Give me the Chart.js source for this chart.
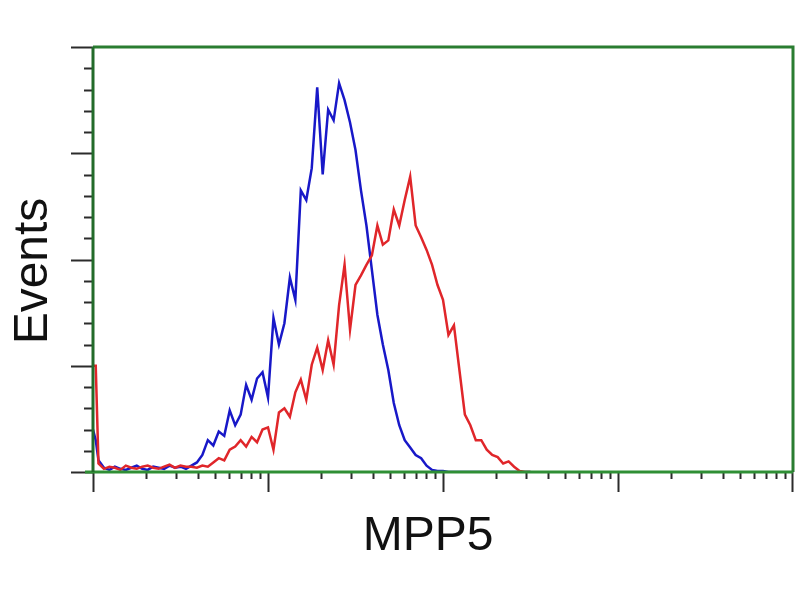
<!DOCTYPE html>
<html>
<head>
<meta charset="utf-8">
<script src="https://cdn.jsdelivr.net/npm/chart.js@4"></script>
<style>
  html, body { margin: 0; padding: 0; background: #fff; }
  #wrap { width: 800px; height: 600px; }
</style>
</head>
<body>
<div id="wrap"><canvas id="histo" width="800" height="600"></canvas></div>
<script>
// histogram channels (256 channels over 4 log decades)
const channels = [0, 1, 2, 4, 6, 8, 10, 12, 14, 16, 18, 20, 22, 24, 26, 28, 30, 32, 34,
  36, 38, 40, 42, 44, 46, 48, 50, 52, 54, 56, 58, 60, 62, 64, 66, 68, 70, 72, 74, 76, 78,
  80, 82, 84, 86, 88, 90, 92, 94, 96, 98, 100, 102, 104, 106, 108, 110, 112, 114, 116, 118,
  120, 122, 124, 126, 128, 130, 132, 134, 136, 138, 140, 142, 144, 146, 148, 150, 152, 154,
  156, 158, 160];

// control (blue)
const blueEvents = [40, 30, 11, 4, 2, 5, 3, 2, 4, 6, 3, 2, 5, 4, 3, 6, 4, 5, 3,
  6, 9, 16, 30, 25, 38, 34, 58, 44, 54, 82, 68, 88, 94, 70, 145, 120, 140, 183, 162, 265, 256,
  286, 362, 280, 341, 331, 366, 350, 329, 303, 265, 232, 190, 148, 120, 96, 65, 44, 30, 23, 16,
  13, 6, 2, 1, 1, 0, 0, 0, 0, 0, 0, 0, 0, 0, 0, 0, 0, 0,
  0, 0, 0];

// MPP5 stained (red)
const redEvents = [100, 100, 8, 3, 5, 4, 2, 6, 4, 3, 5, 6, 4, 3, 5, 7, 4, 6, 5,
  5, 4, 6, 5, 9, 13, 11, 21, 24, 30, 24, 33, 28, 40, 42, 21, 56, 60, 52, 75, 87, 68,
  101, 117, 96, 124, 101, 157, 195, 134, 176, 185, 195, 204, 232, 214, 218, 247, 232, 256, 278, 232,
  221, 209, 195, 176, 162, 129, 138, 96, 54, 44, 30, 30, 21, 16, 14, 8, 10, 5,
  1, 0, 0];

const decades = [0, 1, 2, 3];
const yMax = 400;
const yMinorStep = 20;
const yMajorStep = 100;
const xTitle = 'MPP5';
const yTitle = 'Events';

// frame, log ticks and axis titles
const framePlugin = {
  id: 'frame',
  afterDatasetsDraw(chart) {
    const ctx = chart.ctx;
    const area = chart.chartArea;
    const xs = chart.scales.x;
    const ys = chart.scales.y;
    ctx.save();

    // y ticks (left of axis)
    ctx.strokeStyle = '#2b2b2b';
    ctx.lineWidth = 2;
    for (let v = 0; v <= yMax; v += yMinorStep) {
      const y = Math.round(ys.getPixelForValue(v)) + 0.5;
      const len = v % yMajorStep === 0 ? 22 : 9;
      ctx.beginPath();
      ctx.moveTo(area.left - len, y);
      ctx.lineTo(area.left, y);
      ctx.stroke();
    }

    // x ticks (below axis, log spaced)
    decades.forEach(d => {
      for (let m = 1; m <= 9; m++) {
        const ch = 64 * (d + Math.log10(m));
        const x = Math.round(xs.getPixelForValue(ch)) + 0.5;
        const len = m === 1 ? 20 : 7;
        ctx.beginPath();
        ctx.moveTo(x, area.bottom);
        ctx.lineTo(x, area.bottom + len);
        ctx.stroke();
      }
    });
    const xEnd = Math.round(xs.getPixelForValue(256)) - 0.5;
    ctx.beginPath();
    ctx.moveTo(xEnd, area.bottom);
    ctx.lineTo(xEnd, area.bottom + 20);
    ctx.stroke();

    // green frame
    ctx.lineWidth = 3;
    ctx.strokeStyle = '#2f8f35';
    ctx.beginPath();
    ctx.moveTo(area.left - 8, area.bottom);
    ctx.lineTo(area.right, area.bottom);
    ctx.stroke();
    ctx.strokeStyle = '#2a7d31';
    ctx.beginPath();
    ctx.moveTo(area.left, area.top);
    ctx.lineTo(area.right, area.top);
    ctx.lineTo(area.right, area.bottom);
    ctx.stroke();
    ctx.strokeStyle = '#236b2a';
    ctx.beginPath();
    ctx.moveTo(area.left, area.top);
    ctx.lineTo(area.left, area.bottom);
    ctx.stroke();

    // titles
    ctx.fillStyle = '#111';
    ctx.font = '48px "Liberation Sans", Arial, sans-serif';
    ctx.textAlign = 'center';
    ctx.textBaseline = 'alphabetic';
    ctx.fillText(xTitle, 428, 550);
    ctx.translate(47, 271);
    ctx.rotate(-Math.PI / 2);
    ctx.fillText(yTitle, 0, 0);
    ctx.restore();
  }
};

const ctx = document.getElementById('histo').getContext('2d');
const chart = new Chart(ctx, {
  type: 'line',
  data: {
    datasets: [
      {
        label: 'MPP5',
        data: channels.map((c, i) => ({ x: c, y: redEvents[i] })),
        borderColor: '#e0262a',
        borderWidth: 2.5,
        pointRadius: 0,
        tension: 0
      },
      {
        label: 'Control',
        data: channels.map((c, i) => ({ x: c, y: blueEvents[i] })),
        borderColor: '#1818c8',
        borderWidth: 2.5,
        pointRadius: 0,
        tension: 0
      }
    ]
  },
  options: {
    responsive: false,
    animation: false,
    layout: { padding: { left: 93, right: 7, top: 47, bottom: 128 } },
    plugins: { legend: { display: false }, tooltip: { enabled: false } },
    scales: {
      x: { type: 'linear', min: 0, max: 256, display: false },
      y: { min: 0, max: yMax, display: false }
    }
  },
  plugins: [framePlugin]
});
</script>
</body>
</html>
